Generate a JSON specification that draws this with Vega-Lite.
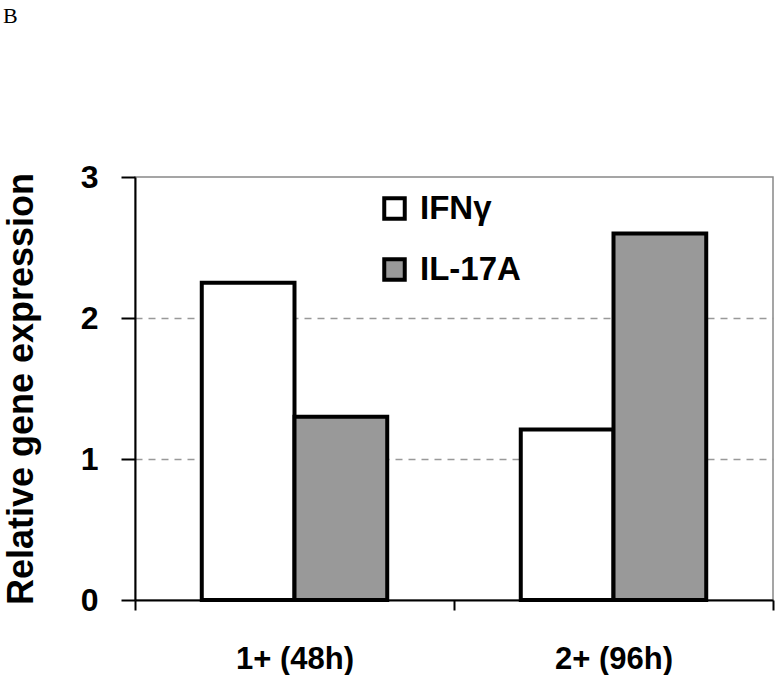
{
  "$schema": "https://vega.github.io/schema/vega-lite/v6.json",
  "width": 638,
  "height": 423,
  "autosize": {"type": "none"},
  "padding": {"left": 135, "top": 177, "right": 2, "bottom": 75},
  "background": "white",
  "title": {"text": "B", "anchor": "start", "frame": "group", "orient": "top", "dx": -132, "offset": 0, "dy": -116, "baseline": "alphabetic", "font": "Liberation Serif", "fontSize": 22, "fontWeight": "normal", "color": "black"},
  "config": {"view": {"stroke": "#888888", "strokeWidth": 1.5}, "font": "Liberation Sans"},
  "data": {"values": [
    {"group": "1+ (48h)", "series": "IFNγ", "value": 2.25},
    {"group": "1+ (48h)", "series": "IL-17A", "value": 1.3},
    {"group": "2+ (96h)", "series": "IFNγ", "value": 1.21},
    {"group": "2+ (96h)", "series": "IL-17A", "value": 2.6}
  ]},
  "mark": {"type": "bar", "stroke": "black", "strokeWidth": 4, "strokeJoin": "miter"},
  "encoding": {
    "x": {"field": "group", "type": "nominal", "sort": null,
      "scale": {"paddingInner": 0, "paddingOuter": 0},
      "axis": {"title": null, "labelAngle": 0, "tickBand": "extent", "domainColor": "black", "domainWidth": 2, "tickColor": "black", "tickWidth": 2, "tickSize": 10, "labelFont": "Liberation Sans", "labelFontSize": 31, "labelFontWeight": "bold", "labelColor": "black", "labelPadding": 34, "labelBaseline": "top"}},
    "xOffset": {"field": "series", "sort": ["IFNγ", "IL-17A"], "scale": {"paddingInner": 0, "paddingOuter": 0.72}},
    "y": {"field": "value", "type": "quantitative", "scale": {"domain": [0, 3]},
      "axis": {"values": [0, 1, 2, 3], "title": "Relative gene expression", "titleFont": "Liberation Sans", "titleFontSize": 36, "titleFontWeight": "bold", "titleColor": "black", "titlePadding": 40,
        "labelFont": "Liberation Sans", "labelFontSize": 32, "labelFontWeight": "bold", "labelColor": "black", "labelPadding": 23,
        "domainColor": "black", "domainWidth": 2, "tickColor": "black", "tickWidth": 2, "tickSize": 14,
        "grid": true, "gridColor": "#999999", "gridDash": [7, 6], "gridWidth": 1.5,
        "gridOpacity": {"condition": {"test": "datum.value === 0 || datum.value === 3", "value": 0}, "value": 1}}},
    "fill": {"field": "series", "type": "nominal",
      "scale": {"domain": ["IFNγ", "IL-17A"], "range": ["white", "#999999"]},
      "legend": {"orient": "none", "legendX": 243, "legendY": 15, "title": null, "symbolType": "square", "symbolSize": 420, "symbolStrokeWidth": 4, "symbolStrokeColor": "black", "symbolOpacity": 1, "labelFont": "Liberation Sans", "labelFontSize": 33, "labelFontWeight": "bold", "labelColor": "black", "labelOffset": 9, "rowPadding": 24}}
  }
}
